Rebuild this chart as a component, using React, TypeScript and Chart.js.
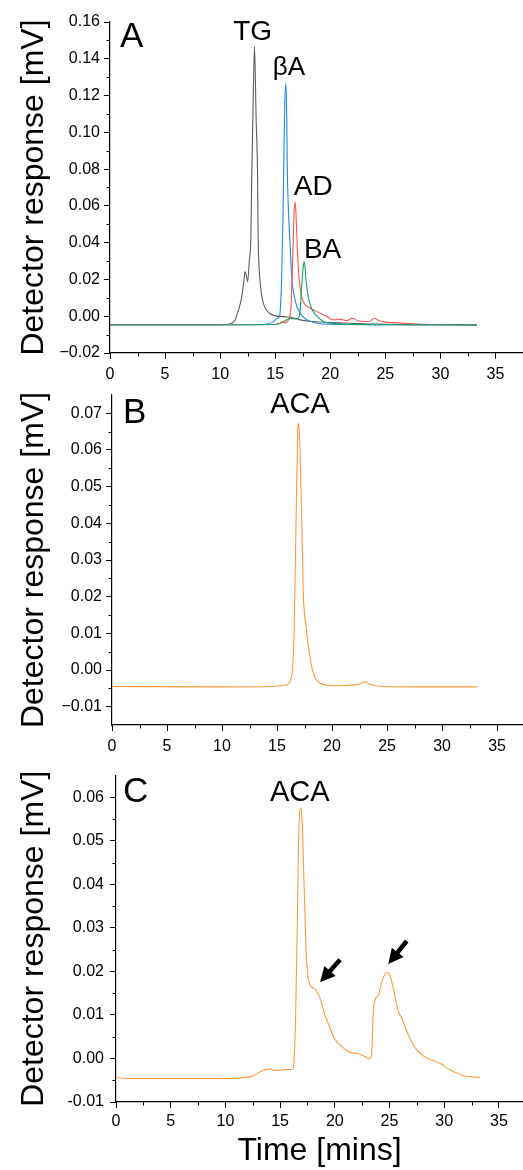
import React, { useEffect, useRef } from 'react';
import { Chart, registerables } from 'chart.js';

Chart.register(...registerables);

const FONT = '"Liberation Sans", Arial, Helvetica, sans-serif';
const TICK_SIZE = 16;

// ---------- Panel A data (time [mins], detector response [mV]) ----------
const tgTime = [0, 5, 10, 10.9, 11.36, 11.67, 11.97, 12.15, 12.27, 12.4, 12.5, 12.65, 12.79, 12.88, 12.97, 13.12, 13.27, 13.39, 13.45, 13.55, 13.64, 13.79, 14.03, 14.48, 15.0, 15.76, 16.6, 17.27, 18.45, 20.3, 21.8, 24, 27, 33.3];
const tgSignal = [-0.0046, -0.0046, -0.0046, -0.0042, -0.002, 0.0034, 0.0107, 0.019, 0.0243, 0.0215, 0.0188, 0.03, 0.043, 0.08, 0.107, 0.1466, 0.107, 0.08, 0.043, 0.0252, 0.018, 0.0107, 0.0052, 0.0016, 0.0002, -0.0002, -0.0008, -0.002, -0.0029, -0.0035, -0.0038, -0.0043, -0.0046, -0.0047];

const baTime = [0, 10, 13.5, 14.2, 14.8, 15.2, 15.4, 15.58, 15.7, 15.77, 15.87, 15.97, 16.05, 16.1, 16.2, 16.36, 16.5, 16.8, 17.27, 17.9, 18.8, 20, 25, 33.3];
const baSignal = [-0.0046, -0.0046, -0.0046, -0.0043, -0.0032, -0.0012, 0.0, 0.02, 0.05, 0.08, 0.115, 0.127, 0.107, 0.08, 0.058, 0.038, 0.0215, 0.0089, 0.0016, -0.002, -0.0038, -0.0044, -0.0046, -0.0047];

const adTime = [0, 10, 15.0, 15.4, 15.6, 15.85, 16.2, 16.45, 16.6, 16.73, 16.82, 16.9, 17.03, 17.18, 17.4, 17.7, 18.18, 18.8, 19.7, 20.3, 20.9, 21.5, 22.0, 22.6, 23.5, 24.0, 24.5, 25.8, 27.9, 30, 33.3];
const adSignal = [-0.0046, -0.0046, -0.0045, -0.0038, -0.003, -0.0035, -0.002, 0.007, 0.034, 0.058, 0.062, 0.054, 0.034, 0.0197, 0.0105, 0.0065, 0.0043, 0.0025, -0.0002, -0.002, -0.0016, -0.0024, -0.0011, -0.0026, -0.0029, -0.0011, -0.0026, -0.0035, -0.0042, -0.0045, -0.0046];

const bzTime = [0, 10, 14.5, 15.5, 16.0, 16.4, 16.8, 17.1, 17.27, 17.4, 17.55, 17.64, 17.72, 17.8, 18.0, 18.3, 18.8, 19.4, 20.2, 21.5, 25, 33.3];
const bzSignal = [-0.0046, -0.0046, -0.0045, -0.0038, -0.002, -0.0011, -0.0015, -0.001, 0.0034, 0.016, 0.027, 0.0297, 0.026, 0.0197, 0.0107, 0.0043, 0.0, -0.003, -0.0039, -0.0044, -0.0046, -0.0047];

// ---------- Panel B data ----------
const acaBTime = [0, 10, 14.5, 15.5, 15.88, 16.18, 16.43, 16.55, 16.66, 16.79, 16.88, 16.97, 17.09, 17.24, 17.39, 17.64, 17.94, 18.3, 18.9, 20.4, 22.2, 22.7, 23.0, 23.45, 24.4, 28, 33.2];
const acaBSignal = [-0.0045, -0.0046, -0.0045, -0.0042, -0.004, -0.0031, 0.001, 0.01, 0.028, 0.051, 0.0647, 0.0673, 0.06, 0.042, 0.021, 0.0119, 0.0046, -0.0008, -0.0036, -0.0043, -0.004, -0.0036, -0.0032, -0.0039, -0.0045, -0.0046, -0.0046];

// ---------- Panel C data ----------
const acaCTime = [0, 0.8, 10.4, 11.64, 12.55, 13.3, 14.0, 14.54, 15.3, 15.84, 16.15, 16.27, 16.42, 16.58, 16.7, 16.85, 17.0, 17.19, 17.37, 17.58, 17.89, 18.28, 18.65, 19.1, 19.56, 20.0, 20.48, 20.93, 21.39, 22.15, 22.76, 23.15, 23.37, 23.5, 23.67, 23.98, 24.28, 24.59, 24.8, 25.05, 25.35, 25.8, 26.12, 26.57, 27.33, 28.1, 28.86, 29.6, 30.53, 31.75, 33.27];
const acaCSignal = [-0.0043, -0.0046, -0.0046, -0.0044, -0.004, -0.0029, -0.0024, -0.0028, -0.0026, -0.0025, -0.0026, -0.0005, 0.01, 0.0326, 0.0514, 0.0576, 0.0552, 0.0401, 0.025, 0.0183, 0.0164, 0.0157, 0.0138, 0.01, 0.007, 0.0044, 0.0032, 0.0021, 0.0014, 0.0011, 0.0004, -0.0001, 0.001, 0.01, 0.0134, 0.0145, 0.0175, 0.0194, 0.0198, 0.019, 0.016, 0.0108, 0.0093, 0.0063, 0.0025, 0.0006, -0.0004, -0.0011, -0.0026, -0.0039, -0.0044];

// ---------- Ticks ----------
const xMajorTicks = [0, 5, 10, 15, 20, 25, 30, 35];
const xMinorTicks = [2.5, 7.5, 12.5, 17.5, 22.5, 27.5, 32.5];
const aYMajorTicks = [-0.02, 0, 0.02, 0.04, 0.06, 0.08, 0.1, 0.12, 0.14, 0.16];
const aYMinorTicks = [-0.01, 0.01, 0.03, 0.05, 0.07, 0.09, 0.11, 0.13, 0.15];
const bYMajorTicks = [-0.01, 0, 0.01, 0.02, 0.03, 0.04, 0.05, 0.06, 0.07];
const bYMinorTicks = [-0.005, 0.005, 0.015, 0.025, 0.035, 0.045, 0.055, 0.065];
const cYMajorTicks = [-0.01, 0, 0.01, 0.02, 0.03, 0.04, 0.05, 0.06];
const cYMinorTicks = [-0.005, 0.005, 0.015, 0.025, 0.035, 0.045, 0.055];

const Y_TITLE = 'Detector response [mV]';
const X_TITLE = 'Time [mins]';

type Series = { x: number[]; y: number[]; color: string; order: number };
type Txt = { text: string; x: number; y: number; size: number; align: CanvasTextAlign };
type Arrow = { x1: number; y1: number; x2: number; y2: number };

interface PanelCfg {
  id: string;
  top: number;
  height: number;
  padTop: number;
  yAxisWidth: number;
  xAxisHeight: number;
  xMax: number;
  yMin: number;
  yMax: number;
  yMajor: number[];
  yMinor: number[];
  minus: string;
  series: Series[];
  texts: Txt[];
  arrows: Arrow[];
  xTitle?: string;
  yLabelPad: number;
  xLabelPad: number;
}

const panels: PanelCfg[] = [
  {
    id: 'A', top: 0, height: 380, padTop: 22, yAxisWidth: 110, xAxisHeight: 27,
    xMax: 37.5, yMin: -0.02, yMax: 0.16, yMajor: aYMajorTicks, yMinor: aYMinorTicks, minus: '\u2212',
    series: [
      { x: tgTime, y: tgSignal, color: '#5c5c5c', order: 4 },
      { x: baTime, y: baSignal, color: '#1e88f0', order: 3 },
      { x: adTime, y: adSignal, color: '#ff5252', order: 2 },
      { x: bzTime, y: bzSignal, color: '#16a56b', order: 1 },
    ],
    texts: [
      { text: 'A', x: 0.9, y: 0.1464, size: 35, align: 'left' },
      { text: 'TG', x: 12.95, y: 0.1502, size: 28, align: 'center' },
      { text: '\u03b2A', x: 16.25, y: 0.1312, size: 26, align: 'center' },
      { text: 'AD', x: 18.45, y: 0.066, size: 28, align: 'center' },
      { text: 'BA', x: 19.3, y: 0.0317, size: 28, align: 'center' },
    ],
    arrows: [],
    yLabelPad: 4, xLabelPad: 6,
  },
  {
    id: 'B', top: 380, height: 380, padTop: 15, yAxisWidth: 112, xAxisHeight: 35,
    xMax: 37.36, yMin: -0.015, yMax: 0.075, yMajor: bYMajorTicks, yMinor: bYMinorTicks, minus: '\u2212',
    series: [{ x: acaBTime, y: acaBSignal, color: '#ff9a3c', order: 1 }],
    texts: [
      { text: 'B', x: 1.0, y: 0.0675, size: 35, align: 'left' },
      { text: 'ACA', x: 17.09, y: 0.07, size: 29, align: 'center' },
    ],
    arrows: [],
    yLabelPad: 4, xLabelPad: 6,
  },
  {
    id: 'C', top: 760, height: 410, padTop: 10, yAxisWidth: 116, xAxisHeight: 68,
    xMax: 37.2, yMin: -0.01, yMax: 0.065, yMajor: cYMajorTicks, yMinor: cYMinorTicks, minus: '-',
    series: [{ x: acaCTime, y: acaCSignal, color: '#ff9a3c', order: 1 }],
    texts: [
      { text: 'C', x: 0.64, y: 0.0589, size: 35, align: 'left' },
      { text: 'ACA', x: 16.8, y: 0.0591, size: 29, align: 'center' },
    ],
    arrows: [
      { x1: 20.48, y1: 0.0227, x2: 18.65, y2: 0.0175 },
      { x1: 26.57, y1: 0.027, x2: 24.89, y2: 0.0217 },
    ],
    xTitle: X_TITLE,
    yLabelPad: 6, xLabelPad: 4,
  },
];

function toPoints(xs: number[], ys: number[]) {
  return xs.map((x, i) => ({ x, y: ys[i] }));
}

function buildChart(canvas: HTMLCanvasElement, p: PanelCfg) {
  const decor = {
    id: 'decor' + p.id,
    afterDraw(chart: any) {
      const ctx: CanvasRenderingContext2D = chart.ctx;
      const xs = chart.scales.x;
      const ys = chart.scales.y;
      ctx.save();
      ctx.strokeStyle = '#000';
      ctx.lineWidth = 1;
      for (const v of xMinorTicks) {
        const px = Math.round(xs.getPixelForValue(v)) + 0.5;
        ctx.beginPath();
        ctx.moveTo(px, xs.top);
        ctx.lineTo(px, xs.top + 3.5);
        ctx.stroke();
      }
      for (const v of p.yMinor) {
        const py = Math.round(ys.getPixelForValue(v)) + 0.5;
        ctx.beginPath();
        ctx.moveTo(ys.right, py);
        ctx.lineTo(ys.right - 3.5, py);
        ctx.stroke();
      }
      ctx.fillStyle = '#000';
      ctx.textBaseline = 'alphabetic';
      for (const t of p.texts) {
        ctx.font = `${t.size}px ${FONT}`;
        ctx.textAlign = t.align;
        ctx.fillText(t.text, xs.getPixelForValue(t.x), ys.getPixelForValue(t.y));
      }
      for (const a of p.arrows) {
        const x1 = xs.getPixelForValue(a.x1);
        const y1 = ys.getPixelForValue(a.y1);
        const x2 = xs.getPixelForValue(a.x2);
        const y2 = ys.getPixelForValue(a.y2);
        const len = Math.hypot(x2 - x1, y2 - y1);
        const ux = (x2 - x1) / len;
        const uy = (y2 - y1) / len;
        const headLen = 15;
        const headHalf = 7.5;
        const bx = x2 - ux * headLen;
        const by = y2 - uy * headLen;
        ctx.strokeStyle = '#000';
        ctx.lineWidth = 4.5;
        ctx.lineCap = 'butt';
        ctx.beginPath();
        ctx.moveTo(x1, y1);
        ctx.lineTo(bx + ux * 2, by + uy * 2);
        ctx.stroke();
        ctx.beginPath();
        ctx.moveTo(x2, y2);
        ctx.lineTo(bx - uy * headHalf, by + ux * headHalf);
        ctx.lineTo(bx + uy * headHalf, by - ux * headHalf);
        ctx.closePath();
        ctx.fill();
      }
      ctx.restore();
    },
  };

  const fmtY = (v: number) => {
    const s = Math.abs(v) < 1e-12 ? '0.00' : v.toFixed(2);
    return s.replace('-', p.minus);
  };

  return new Chart(canvas, {
    type: 'line',
    data: {
      datasets: p.series.map((s) => ({
        data: toPoints(s.x, s.y),
        borderColor: s.color,
        borderWidth: 1.1,
        pointRadius: 0,
        fill: false,
        cubicInterpolationMode: 'monotone',
        order: s.order,
      })),
    },
    options: {
      animation: false,
      responsive: false,
      devicePixelRatio: 1,
      parsing: true,
      layout: { padding: { top: p.padTop, left: 0, right: 0, bottom: 0 } },
      plugins: {
        legend: { display: false },
        tooltip: { enabled: false },
        title: { display: false },
      },
      scales: {
        x: {
          type: 'linear',
          min: 0,
          max: p.xMax,
          afterBuildTicks: (s: any) => {
            s.ticks = xMajorTicks.map((v) => ({ value: v }));
          },
          afterFit: (s: any) => {
            s.height = p.xAxisHeight;
          },
          grid: { drawOnChartArea: false, drawTicks: true, tickLength: 6, color: '#000', lineWidth: 1 },
          border: { display: true, color: '#000', width: 1.2 },
          ticks: {
            color: '#000',
            font: { family: FONT, size: TICK_SIZE },
            padding: p.xLabelPad,
            maxRotation: 0,
            autoSkip: false,
            callback: (v: any) => String(v),
          },
          title: p.xTitle
            ? { display: true, text: p.xTitle, color: '#000', font: { family: FONT, size: 32 }, padding: { top: 0, bottom: 0 } }
            : { display: false },
        },
        y: {
          type: 'linear',
          min: p.yMin,
          max: p.yMax,
          afterBuildTicks: (s: any) => {
            s.ticks = p.yMajor.map((v) => ({ value: v }));
          },
          afterFit: (s: any) => {
            s.width = p.yAxisWidth;
          },
          grid: { drawOnChartArea: false, drawTicks: true, tickLength: 6, color: '#000', lineWidth: 1 },
          border: { display: true, color: '#000', width: 1.2 },
          ticks: {
            color: '#000',
            font: { family: FONT, size: TICK_SIZE },
            padding: p.yLabelPad,
            autoSkip: false,
            callback: (v: any) => fmtY(Number(v)),
          },
          title: {
            display: true,
            text: Y_TITLE,
            color: '#000',
            font: { family: FONT, size: 32 },
            padding: { top: 15, bottom: 0 },
          },
        },
      },
    } as any,
    plugins: [decor],
  });
}

function Panel({ cfg }: { cfg: PanelCfg }) {
  const ref = useRef<HTMLCanvasElement | null>(null);
  useEffect(() => {
    if (!ref.current) return;
    const chart = buildChart(ref.current, cfg);
    return () => chart.destroy();
  }, [cfg]);
  return (
    <canvas
      ref={ref}
      width={523}
      height={cfg.height}
      style={{ position: 'absolute', left: 0, top: cfg.top, width: 523, height: cfg.height, display: 'block' }}
    />
  );
}

export default function App() {
  return (
    <div style={{ position: 'absolute', left: 0, top: 0, width: 523, height: 1170, background: '#fff', overflow: 'hidden' }}>
      {panels.map((p) => (
        <Panel key={p.id} cfg={p} />
      ))}
    </div>
  );
}
